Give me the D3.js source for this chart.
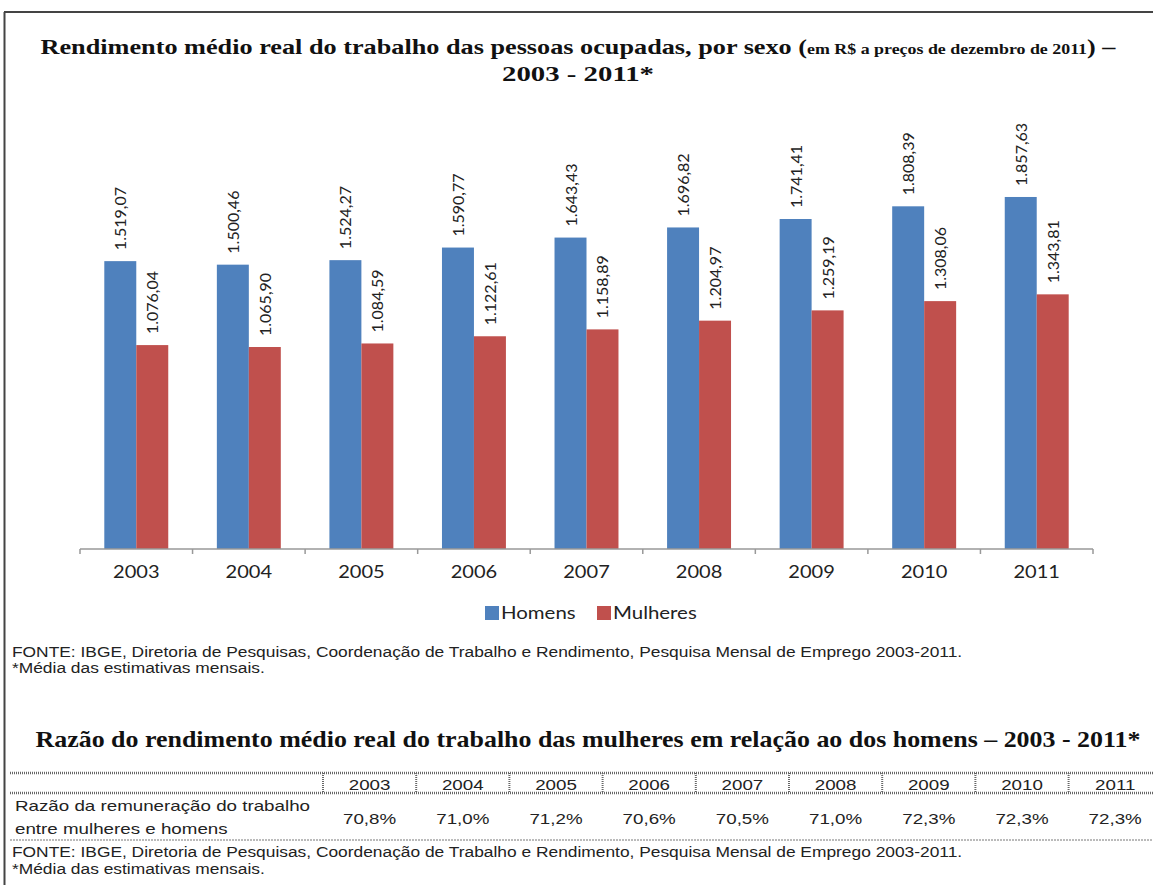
<!DOCTYPE html>
<html>
<head>
<meta charset="utf-8">
<script src="https://cdn.jsdelivr.net/npm/d3@7"></script>
<style>
  body { margin: 0; background: #fff; }
  svg { display: block; }
</style>
</head>
<body>
<div class="chart"></div>
<script>
// data
var years = ["2003", "2004", "2005", "2006", "2007", "2008", "2009", "2010", "2011"];
var series = ["Homens", "Mulheres"];
var homens = [1519.07, 1500.46, 1524.27, 1590.77, 1643.43, 1696.82, 1741.41, 1808.39, 1857.63];
var mulheres = [1076.04, 1065.90, 1084.59, 1122.61, 1158.89, 1204.97, 1259.19, 1308.06, 1343.81];
var razao = ["70,8%", "71,0%", "71,2%", "70,6%", "70,5%", "71,0%", "72,3%", "72,3%", "72,3%"];
var colors = ["#4F81BD", "#C0504D"];

var svgWidth = 1153;
var svgHeight = 885;

var svg = d3.select(".chart")
  .append("svg")
  .attr("width", svgWidth)
  .attr("height", svgHeight);

// the source picture is a bit wider than the fonts, stretch texts sideways
function stretch(sel, k) {
  sel.each(function() {
    var w = this.getComputedTextLength();
    d3.select(this)
      .attr("textLength", w * k)
      .attr("lengthAdjust", "spacingAndGlyphs");
  });
}

// frame (top + left)
svg.append("line")
  .attr("x1", 4).attr("x2", svgWidth)
  .attr("y1", 12).attr("y2", 12)
  .attr("stroke", "#444").attr("stroke-width", 2);
svg.append("line")
  .attr("x1", 4.5).attr("x2", 4.5)
  .attr("y1", 12).attr("y2", svgHeight)
  .attr("stroke", "#444").attr("stroke-width", 2);

// title
var title = svg.append("text")
  .attr("x", 578)
  .attr("y", 54)
  .attr("text-anchor", "middle")
  .attr("textLength", 1075)
  .attr("lengthAdjust", "spacingAndGlyphs")
  .style("font-family", "'Liberation Serif', 'Times New Roman', serif")
  .style("font-weight", "bold")
  .style("fill", "#111");
title.append("tspan").style("font-size", "22px")
  .text("Rendimento médio real do trabalho das pessoas ocupadas, por sexo ");
title.append("tspan").style("font-size", "22px").text("(");
title.append("tspan").style("font-size", "15px").text("em R$ a preços de dezembro de 2011");
title.append("tspan").style("font-size", "22px").text(") –");

svg.append("text")
  .attr("x", 578)
  .attr("y", 81)
  .attr("text-anchor", "middle")
  .attr("textLength", 152)
  .attr("lengthAdjust", "spacingAndGlyphs")
  .style("font-family", "'Liberation Serif', 'Times New Roman', serif")
  .style("font-weight", "bold")
  .style("font-size", "22px")
  .style("fill", "#111")
  .text("2003 - 2011*");

// scales
var x0 = d3.scaleBand()
  .domain(years)
  .range([80, 1093])
  .padding(0);

var x1 = d3.scaleBand()
  .domain(series)
  .range([0, x0.bandwidth()])
  .paddingInner(0)
  .paddingOuter(0.76);

var y = d3.scaleLinear()
  .domain([0, 2000])
  .range([549, 170]);

var rows = years.map(function(yr, i) {
  return { year: yr, values: [homens[i], mulheres[i]] };
});

var groups = svg.selectAll(".year")
  .data(rows)
  .enter()
  .append("g")
  .attr("class", "year")
  .attr("transform", d => `translate(${x0(d.year)},0)`);

groups.selectAll("rect")
  .data(d => d.values.map((v, j) => ({ key: series[j], value: v, j: j })))
  .enter()
  .append("rect")
  .attr("x", d => x1(d.key))
  .attr("y", d => y(d.value))
  .attr("width", x1.bandwidth())
  .attr("height", d => y(0) - y(d.value))
  .attr("fill", d => colors[d.j]);

function fmt(v) {
  var s = v.toFixed(2).split(".");
  var intPart = s[0];
  if (intPart.length > 3) intPart = intPart.slice(0, intPart.length - 3) + "." + intPart.slice(-3);
  return intPart + "," + s[1];
}

groups.selectAll("text.val")
  .data(d => d.values.map((v, j) => ({ key: series[j], value: v, j: j })))
  .enter()
  .append("text")
  .attr("class", "val")
  .attr("transform", d => `translate(${x1(d.key) + x1.bandwidth() / 2 + 6},${y(d.value) - 11}) rotate(-90)`)
  .attr("text-anchor", "start")
  .style("font-family", "Lato, 'Open Sans', sans-serif")
  .style("font-size", "16px")
  .style("fill", "#222")
  .text(d => fmt(d.value));

// x axis
var xAxis = d3.axisBottom(x0).tickSize(0).tickPadding(17);
var axisG = svg.append("g")
  .attr("transform", `translate(0,${y(0)})`)
  .call(xAxis);
axisG.select(".domain").attr("stroke", "#999").attr("stroke-width", 1.5).attr("d", "M80,0H1093");
axisG.selectAll(".tick text")
  .style("font-family", "Lato, 'Open Sans', sans-serif")
  .style("font-size", "17px")
  .style("fill", "#222")
  .call(stretch, 1.18);

// tick marks on band boundaries
var bounds = years.map(d => x0(d)).concat([x0(years[years.length - 1]) + x0.bandwidth()]);
axisG.selectAll(".bound")
  .data(bounds)
  .enter()
  .append("line")
  .attr("x1", d => d).attr("x2", d => d)
  .attr("y1", 0).attr("y2", 5)
  .attr("stroke", "#999").attr("stroke-width", 1.5);

// legend
var legend = svg.append("g").attr("transform", "translate(485,606)");
var legX = [0, 112];
series.forEach(function(s, i) {
  legend.append("rect")
    .attr("x", legX[i]).attr("y", 0)
    .attr("width", 14).attr("height", 14)
    .attr("fill", colors[i]);
  legend.append("text")
    .attr("x", legX[i] + 16).attr("y", 13)
    .style("font-family", "Lato, 'Open Sans', sans-serif")
    .style("font-size", "17px")
    .style("fill", "#222")
    .text(s)
    .call(stretch, 1.2);
});

// footnotes
var fonte = "FONTE: IBGE, Diretoria de Pesquisas, Coordenação de Trabalho e Rendimento, Pesquisa Mensal de Emprego 2003-2011.";
var media = "*Média das estimativas mensais.";
function note(txt, yy) {
  svg.append("text")
    .attr("x", 12).attr("y", yy)
    .style("font-family", "'Liberation Sans', Arial, sans-serif")
    .style("font-size", "14px")
    .style("fill", "#222")
    .text(txt)
    .call(stretch, 1.24);
}
note(fonte, 657);
note(media, 673);

// second title
svg.append("text")
  .attr("x", 588)
  .attr("y", 747)
  .attr("text-anchor", "middle")
  .attr("textLength", 1105)
  .attr("lengthAdjust", "spacingAndGlyphs")
  .style("font-family", "'Liberation Serif', 'Times New Roman', serif")
  .style("font-weight", "bold")
  .style("font-size", "23px")
  .style("fill", "#111")
  .text("Razão do rendimento médio real do trabalho das mulheres em relação ao dos homens – 2003 - 2011*");

// table
var colX = d3.scaleBand()
  .domain(years)
  .range([323, 323 + 93.2 * years.length]);

var table = svg.append("g");
[773, 793].forEach(function(yy) {
  table.append("line")
    .attr("x1", 10).attr("x2", svgWidth)
    .attr("y1", yy).attr("y2", yy)
    .attr("stroke", "#666").attr("stroke-width", 2.5)
    .attr("stroke-dasharray", "1,1");
});
table.selectAll(".sep")
  .data(years)
  .enter()
  .append("line")
  .attr("x1", d => colX(d)).attr("x2", d => colX(d))
  .attr("y1", 773).attr("y2", 793)
  .attr("stroke", "#666").attr("stroke-width", 2)
  .attr("stroke-dasharray", "1,1");
table.append("line")
  .attr("x1", 10).attr("x2", svgWidth)
  .attr("y1", 840).attr("y2", 840)
  .attr("stroke", "#777").attr("stroke-width", 1)
  .attr("stroke-dasharray", "2,1");

table.selectAll(".hdr")
  .data(years)
  .enter()
  .append("text")
  .attr("x", d => colX(d) + colX.bandwidth() / 2)
  .attr("y", 790)
  .attr("text-anchor", "middle")
  .style("font-family", "'Liberation Sans', Arial, sans-serif")
  .style("font-size", "15px")
  .style("fill", "#222")
  .text(d => d)
  .call(stretch, 1.25);

table.selectAll(".val")
  .data(razao)
  .enter()
  .append("text")
  .attr("x", (d, i) => colX(years[i]) + colX.bandwidth() / 2)
  .attr("y", 824)
  .attr("text-anchor", "middle")
  .style("font-family", "'Liberation Sans', Arial, sans-serif")
  .style("font-size", "15px")
  .style("fill", "#222")
  .text(d => d)
  .call(stretch, 1.25);

["Razão da remuneração do trabalho", "entre mulheres e homens"].forEach(function(t, i) {
  table.append("text")
    .attr("x", 15).attr("y", 811 + i * 23)
    .style("font-family", "'Liberation Sans', Arial, sans-serif")
    .style("font-size", "15px")
    .style("fill", "#222")
    .text(t)
    .call(stretch, 1.25);
});

note(fonte, 857);
note(media, 874);
</script>
</body>
</html>
